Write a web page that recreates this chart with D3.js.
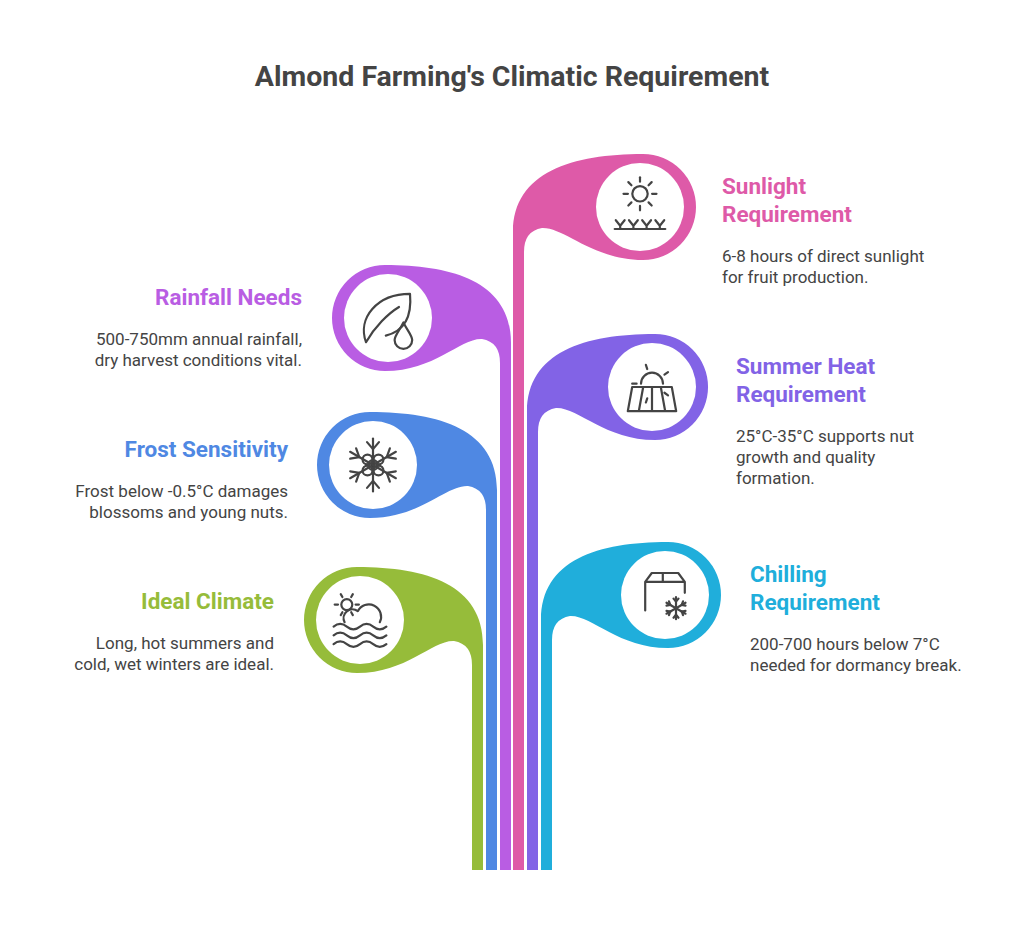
<!DOCTYPE html><html><head><meta charset="utf-8">
<script src="https://cdn.jsdelivr.net/npm/d3@7"></script>
<style>body{margin:0;background:#fff}</style></head><body>
<svg id="c" width="1024" height="934"></svg>
<script>
const labels = [["Sunlight","Requirement"],["Summer Heat","Requirement"],["Chilling","Requirement"],["Rainfall Needs"],["Frost Sensitivity"],["Ideal Climate"]];
const descs = [["6-8 hours of direct sunlight","for fruit production."],["25°C-35°C supports nut","growth and quality","formation."],["200-700 hours below 7°C","needed for dormancy break."],["500-750mm annual rainfall,","dry harvest conditions vital."],["Frost below -0.5°C damages","blossoms and young nuts."],["Long, hot summers and","cold, wet winters are ideal."]];
const sides = ["right","right","right","left","left","left"];
const colors = ["#DE5AA8","#8263E6","#20AEDB","#B95DE3","#4F88E3","#96BC3A"];
const stemX = [513,527,541,500,486,472];
const centers = [[643,207],[655,387],[668,595],[385,318],[370,465],[357,620]];
const textPos = [[722,194],[736,374],[750,582],[302,305],[288,457],[274,609]];
const icons = ["sun","heat","chill","rain","frost","ideal"];
const W=11,R=53,BOT=870;
const svg=d3.select("#c");
svg.append("text").attr("x",512).attr("y",86).attr("text-anchor","middle").attr("font-family","Roboto").attr("font-weight",700).attr("font-size",28.5).attr("fill","#444").text("Almond Farming's Climatic Requirement");
function leaf(i){
  const [cx,cy]=centers[i]; const s=sides[i]==="right"?1:-1;
  const x0=stemX[i], x1=x0+W;
  const xo=s>0?x0:x1, xi=s>0?x1:x0;
  const p=d3.path();
  p.moveTo(xo,BOT); p.lineTo(xo,cy+25);
  p.bezierCurveTo(xo,cy-35,cx-s*70,cy-R,cx,cy-R);
  p.arc(cx,cy,R,-Math.PI/2,Math.PI/2,s<0);
  p.bezierCurveTo(cx-s*50,cy+R,xi+s*40,cy+20,xi+s*18,cy+21);
  p.quadraticCurveTo(xi,cy+24,xi,cy+45);
  p.lineTo(xi,BOT); p.closePath();
  return p.toString();
}
const g=svg.append("g");
d3.range(6).forEach(i=>{
  const [cx,cy]=centers[i]; const s=sides[i]==="right"?1:-1;
  g.append("path").attr("d",leaf(i)).attr("fill",colors[i]);
  g.append("circle").attr("cx",cx-s*3).attr("cy",cy).attr("r",R-9).attr("fill","#fff");
  const ic=g.append("g").attr("transform",`translate(${cx-s*3},${cy}) scale(1.1)`).attr("fill","none").attr("stroke","#444").attr("stroke-width",2).attr("stroke-linecap","round").attr("stroke-linejoin","round");
  drawIcon(ic,icons[i]);
  const [tx,ty]=textPos[i]; const anchor=s>0?"start":"end";
  labels[i].forEach((l,k)=>svg.append("text").attr("x",tx).attr("y",ty+k*28).attr("text-anchor",anchor).attr("font-family","Roboto").attr("font-weight",700).attr("font-size",22.5).attr("fill",colors[i]).text(l));
  const dy=ty+labels[i].length*28+12;
  descs[i].forEach((l,k)=>svg.append("text").attr("x",tx).attr("y",dy+k*21).attr("text-anchor",anchor).attr("font-family","Roboto").attr("font-size",17).attr("fill","#444").text(l));
});
function rays(g,x,y,r1,r2,n,a0){for(let k=0;k<n;k++){const a=a0+k*2*Math.PI/n;g.append("line").attr("x1",x+r1*Math.cos(a)).attr("y1",y+r1*Math.sin(a)).attr("x2",x+r2*Math.cos(a)).attr("y2",y+r2*Math.sin(a));}}
function flake(g,x,y,r){rays(g,x,y,0,r,6,Math.PI/2);for(let k=0;k<6;k++){const a=Math.PI/2+k*Math.PI/3,bx=x+r*0.6*Math.cos(a),by=y+r*0.6*Math.sin(a);[a+0.7,a-0.7].forEach(b=>g.append("line").attr("x1",bx).attr("y1",by).attr("x2",bx+r*0.35*Math.cos(b)).attr("y2",by+r*0.35*Math.sin(b)));}}
function drawIcon(g,t){
  if(t==="sun"){g.append("circle").attr("cx",0).attr("cy",-12).attr("r",7);rays(g,0,-12,11,15,8,0);
    g.append("line").attr("x1",-23).attr("y1",20).attr("x2",23).attr("y2",20);
    [-18,-6,6,18].forEach(x=>g.append("path").attr("d",`M${x-4},12 L${x},17 L${x+4},12 M${x},17 V20`));}
  if(t==="heat"){g.append("path").attr("d","M-10,-3 A10,10 0 0 1 10,-3");rays(g,0,-3,14,18,5,-Math.PI);
    g.append("path").attr("d","M-22,22 L-18,0 H18 L22,22 Z M-8,0 L-12,22 M8,0 L12,22 M0,0 V22");}
  if(t==="chill"){g.append("path").attr("d","M-18,14 V-12 L-12,-20 H12 L18,-12 V-2 M-18,-12 H18 M-2,-20 V-12");flake(g,10,12,10);}
  if(t==="rain"){g.append("path").attr("d","M-20,22 C-28,0 -10,-22 20,-22 C22,0 14,12 -2,16 M-20,22 C-12,8 0,-4 10,-10");
    g.append("path").attr("d","M14,4 C10,12 6,16 6,20 A8,8 0 0 0 22,20 C22,16 18,12 14,4 Z");}
  if(t==="frost"){flake(g,0,0,24);[[-5,-5],[5,-5],[-5,5],[5,5],[0,0]].forEach(([x,y])=>g.append("circle").attr("cx",x).attr("cy",y).attr("r",4.5));}
  if(t==="ideal"){g.append("circle").attr("cx",-12).attr("cy",-14).attr("r",5);rays(g,-12,-14,8,11,6,0);
    g.append("path").attr("d","M-14,2 A8,8 0 0 1 -2,-8 A10,10 0 0 1 18,2");
    [6,14,22].forEach(y=>g.append("path").attr("d",`M-24,${y} q6,-5 12,0 t12,0 t12,0 t12,0`));}
}
</script></body></html>
